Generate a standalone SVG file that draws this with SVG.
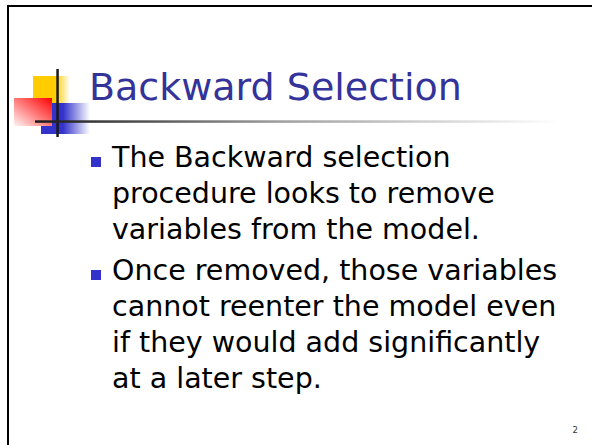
<svg xmlns="http://www.w3.org/2000/svg" width="592" height="445" viewBox="0 0 592 445">
  <defs>
    <linearGradient id="gYellow" x1="0" y1="0" x2="1" y2="0">
      <stop offset="0" stop-color="#FFCC00"/>
      <stop offset="0.6" stop-color="#FFCC00"/>
      <stop offset="1" stop-color="#FFCC00" stop-opacity="0"/>
    </linearGradient>
    <linearGradient id="gBlue" x1="0" y1="0" x2="1" y2="0">
      <stop offset="0" stop-color="#3333CC"/>
      <stop offset="0.45" stop-color="#3333CC"/>
      <stop offset="1" stop-color="#3333CC" stop-opacity="0"/>
    </linearGradient>
    <linearGradient id="gRed" x1="1" y1="0" x2="0" y2="1">
      <stop offset="0" stop-color="#FF0000"/>
      <stop offset="1" stop-color="#FFF4F4"/>
    </linearGradient>
    <linearGradient id="gLine" gradientUnits="userSpaceOnUse" x1="35" y1="0" x2="560" y2="0">
      <stop offset="0" stop-color="#1a1a1a"/>
      <stop offset="0.1" stop-color="#333333"/>
      <stop offset="0.45" stop-color="#9a9a9a"/>
      <stop offset="1" stop-color="#ffffff"/>
    </linearGradient>
  </defs>
  <style>
    .title { font-family: "DejaVu Sans", Verdana, sans-serif; font-size: 38px; fill: #333399; }
    .body { font-family: "DejaVu Sans", Verdana, sans-serif; font-size: 28.5px; fill: #000000; }
    .bullet { fill: #3333CC; }
    .num { font-family: "DejaVu Sans", sans-serif; font-size: 8.5px; fill: #333333; }
  </style>
  <rect x="0" y="0" width="592" height="445" fill="#ffffff"/>
  <g id="frame">
    <line x1="7" y1="6" x2="592" y2="6" stroke="#000" stroke-width="2"/>
    <line x1="8" y1="5" x2="8" y2="445" stroke="#000" stroke-width="2"/>
  </g>
  <g id="decoration">
    <rect x="33" y="76" width="37" height="27" fill="url(#gYellow)"/>
    <rect x="41" y="103" width="49" height="31" fill="url(#gBlue)"/>
    <rect x="14" y="98" width="38" height="28" fill="url(#gRed)"/>
    <rect x="56.3" y="69" width="2.5" height="68" fill="#1a1a1a"/>
    <rect x="35" y="120.3" width="525" height="2.5" fill="url(#gLine)"/>
  </g>
  <g id="title">
    <text class="title" x="89" y="100">Backward Selection</text>
  </g>
  <g id="bullet1">
    <rect class="bullet" x="91" y="157" width="10" height="10"/>
    <text class="body" x="112" y="167">The Backward selection</text>
    <text class="body" x="112" y="203">procedure looks to remove</text>
    <text class="body" x="112" y="239">variables from the model.</text>
  </g>
  <g id="bullet2">
    <rect class="bullet" x="91" y="270" width="10" height="10"/>
    <text class="body" x="112" y="280">Once removed, those variables</text>
    <text class="body" x="112" y="316">cannot reenter the model even</text>
    <text class="body" x="112" y="352">if they would add significantly</text>
    <text class="body" x="112" y="388">at a later step.</text>
  </g>
  <g id="pagenum">
    <text class="num" x="572.5" y="433">2</text>
  </g>
</svg>
